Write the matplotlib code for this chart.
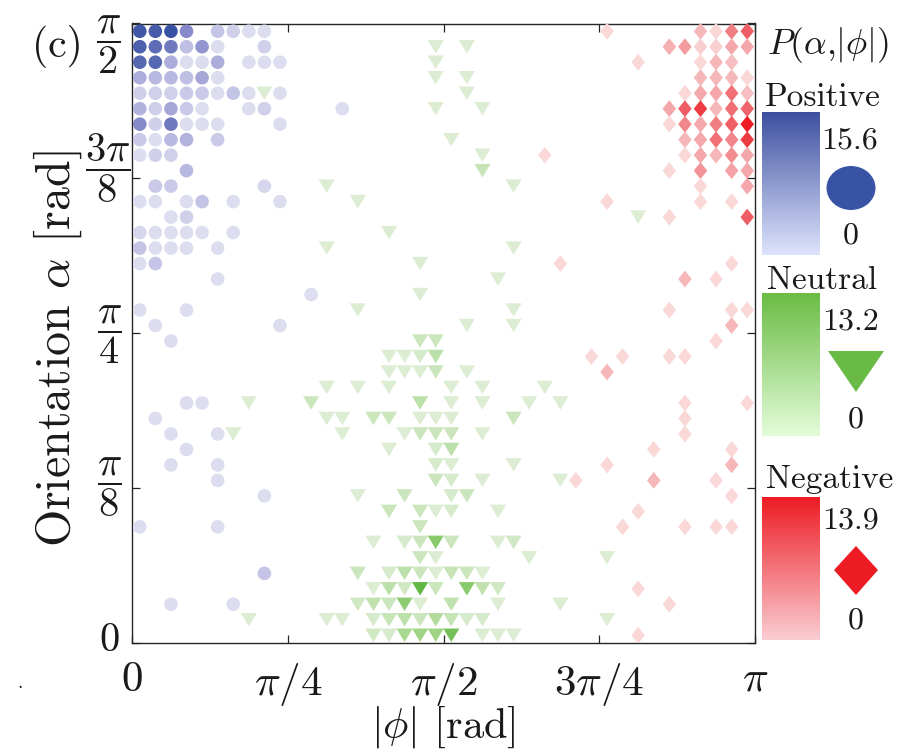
import numpy as np
import matplotlib
matplotlib.use("Agg")
import matplotlib.pyplot as plt
from matplotlib.colors import LinearSegmentedColormap, Normalize
from matplotlib.patches import Ellipse, Polygon

plt.rcParams['mathtext.fontset'] = 'cm'
plt.rcParams['font.family'] = ['cmr10', 'DejaVu Serif']
plt.rcParams['axes.formatter.use_mathtext'] = True

# ---------------- data: 40 x 40 histogram bins of |phi| in [0, pi] and alpha in [0, pi/2]
N_PHI_BINS = 40
N_ALPHA_BINS = 40
PHI_MAX = np.pi
ALPHA_MAX = np.pi / 2

# Positive (circles), max 15.6
pos_phi_bin = [
    0, 1, 2, 3, 5, 6, 7, 8,
    0, 1, 2, 3, 4, 5, 8,
    0, 1, 2, 3, 4, 5, 7, 8, 9,
    0, 1, 2, 3, 4, 5,
    0, 1, 2, 3, 4, 5, 6, 7, 9,
    0, 1, 2, 3, 4, 7, 8, 13,
    0, 1, 2, 3, 4, 5, 9,
    0, 1, 2, 3, 5,
    0, 1, 2,
    3,
    1, 2, 8,
    0, 1, 3, 4, 6, 9,
    2, 3,
    0, 1, 2, 3, 4, 6,
    0, 1, 2, 3, 5,
    0, 1,
    5,
    11,
    0, 3,
    1, 9,
    2,
    3, 4,
    1,
    2, 5,
    3,
    2, 5,
    5,
    8,
    0, 5,
    8,
    2, 6,
]
pos_alpha_bin = [
    39, 39, 39, 39, 39, 39, 39, 39,
    38, 38, 38, 38, 38, 38, 38,
    37, 37, 37, 37, 37, 37, 37, 37, 37,
    36, 36, 36, 36, 36, 36,
    35, 35, 35, 35, 35, 35, 35, 35, 35,
    34, 34, 34, 34, 34, 34, 34, 34,
    33, 33, 33, 33, 33, 33, 33,
    32, 32, 32, 32, 32,
    31, 31, 31,
    30,
    29, 29, 29,
    28, 28, 28, 28, 28, 28,
    27, 27,
    26, 26, 26, 26, 26, 26,
    25, 25, 25, 25, 25,
    24, 24,
    23,
    22,
    21, 21,
    20, 20,
    19,
    15, 15,
    14,
    13, 13,
    12,
    11, 11,
    10,
    9,
    7, 7,
    4,
    2, 2,
]
pos_P = [
    15, 14.5, 15.6, 9, 4, 3, 2, 2,
    14, 12.5, 11, 4.5, 8, 2, 3,
    13, 13, 6, 2, 2, 6, 2, 2, 2,
    6, 5, 5, 4.5, 6.5, 2,
    3, 3, 3, 3.5, 3.5, 2, 4, 2, 2,
    5.5, 3, 6.5, 3.5, 2, 2, 3, 2,
    9, 3, 11, 2, 2, 2, 2,
    3.5, 2, 5, 5.5, 3.5,
    2, 3, 3,
    5,
    3.5, 3.5, 2.5,
    2, 2, 2, 4, 2, 2,
    2, 3,
    2.5, 2, 2, 2, 2, 2,
    4, 2, 2, 2, 2,
    2, 4,
    2,
    2,
    2, 2,
    2, 2,
    2,
    2, 2,
    2,
    2, 2,
    2,
    2, 2,
    2,
    2,
    2, 2,
    4,
    2, 2,
]

# Neutral (triangles), max 13.2
neu_phi_bin = [
    19, 21,
    19,
    19, 21,
    8, 21,
    19, 22,
    20,
    22,
    22,
    12, 24,
    14,
    32,
    16,
    12, 24,
    18,
    23,
    18,
    14, 24,
    21, 24,
    18, 19,
    16, 17, 18, 19,
    16, 17, 18, 19, 21,
    12, 14, 16, 20, 22, 26,
    7, 11, 18, 20, 22, 25, 27,
    12, 13, 15, 16, 18, 19, 20, 24,
    6, 13, 17, 18, 19, 20, 22,
    16, 19, 20,
    19, 20, 24,
    19, 20, 22, 27,
    14, 17, 20, 21,
    16, 18, 19, 20, 23,
    18,
    15, 17, 18, 19, 20, 23, 24,
    18, 19, 25, 30,
    14, 16, 17, 18, 19, 20, 21, 22,
    15, 16, 17, 18, 19, 21, 22, 23,
    14, 15, 16, 17, 18, 20, 23, 27,
    7, 12, 13, 15, 16, 17, 18, 19, 20, 21, 22, 30,
    15, 16, 17, 18, 19, 20, 22, 23, 24,
]
neu_alpha_bin = [
    38, 38,
    37,
    36, 36,
    35, 35,
    34, 34,
    32,
    31,
    30,
    29, 29,
    28,
    27,
    26,
    25, 25,
    24,
    23,
    22,
    21, 21,
    20, 20,
    19, 19,
    18, 18, 18, 18,
    17, 17, 17, 17, 17,
    16, 16, 16, 16, 16, 16,
    15, 15, 15, 15, 15, 15, 15,
    14, 14, 14, 14, 14, 14, 14, 14,
    13, 13, 13, 13, 13, 13, 13,
    12, 12, 12,
    11, 11, 11,
    10, 10, 10, 10,
    9, 9, 9, 9,
    8, 8, 8, 8, 8,
    7,
    6, 6, 6, 6, 6, 6, 6,
    5, 5, 5, 5,
    4, 4, 4, 4, 4, 4, 4, 4,
    3, 3, 3, 3, 3, 3, 3, 3,
    2, 2, 2, 2, 2, 2, 2, 2,
    1, 1, 1, 1, 1, 1, 1, 1, 1, 1, 1, 1,
    0, 0, 0, 0, 0, 0, 0, 0, 0,
]
neu_P = [
    2, 2,
    2,
    2, 2,
    2, 2,
    2, 2,
    2,
    2,
    4,
    2, 2,
    2,
    2,
    2,
    2, 2,
    2,
    2,
    2,
    2, 2,
    2, 2,
    3.5, 3.5,
    2, 2, 2.5, 5,
    2, 2, 2, 3.5, 2,
    2, 2, 2, 2, 2, 2,
    2, 3.5, 5, 2, 2, 2, 2,
    2, 2, 3.5, 3.5, 2, 2, 2, 3.5,
    2, 2, 2, 3.5, 3.5, 3.5, 2,
    2, 2.5, 5,
    2.5, 2, 2,
    3.5, 2.5, 2, 2,
    2, 3.5, 2.5, 3.5,
    3.5, 3.5, 2, 2.5, 2,
    3.5,
    2, 2.5, 3.5, 10, 3.5, 2, 3,
    3.5, 2, 2, 2,
    3.5, 2.5, 5, 3.5, 2, 4, 3.5, 2,
    2, 5, 3, 13.2, 3.5, 10, 4.5, 3,
    3, 4.5, 3.5, 9.5, 2, 4.5, 2, 2,
    2, 2, 2, 2.5, 4, 5, 3.5, 6, 4, 2.5, 2.5, 2,
    3, 2.5, 7, 8, 8, 11.5, 2, 2, 2,
]

# Negative (diamonds), max 13.9
neg_phi_bin = [
    30, 36, 37, 38, 39,
    34, 35, 36, 37, 38, 39,
    32, 36, 37, 38,
    36, 37, 38, 39,
    35, 36, 37, 38, 39,
    34, 35, 36, 37, 38, 39,
    34, 35, 36, 37, 38, 39,
    35, 36, 37, 38, 39,
    26, 35, 36, 37, 38, 39,
    34, 36, 38, 39,
    36, 39,
    30, 36, 38,
    34, 39,
    27, 38,
    35, 37,
    34, 38, 39,
    38,
    37,
    29, 31, 34, 35,
    30,
    35, 39,
    35,
    35,
    33, 38,
    30, 38,
    28, 33, 37,
    38,
    32,
    31, 35, 37, 38,
    32,
    34,
    32,
]
neg_alpha_bin = [
    39, 39, 39, 39, 39,
    38, 38, 38, 38, 38, 38,
    37, 37, 37, 37,
    36, 36, 36, 36,
    35, 35, 35, 35, 35,
    34, 34, 34, 34, 34, 34,
    33, 33, 33, 33, 33, 33,
    32, 32, 32, 32, 32,
    31, 31, 31, 31, 31, 31,
    30, 30, 30, 30,
    29, 29,
    28, 28, 28,
    27, 27,
    24, 24,
    23, 23,
    21, 21, 21,
    20,
    19,
    18, 18, 18, 18,
    17,
    15, 15,
    14,
    13,
    12, 12,
    11, 11,
    10, 10, 10,
    9,
    8,
    7, 7, 7, 7,
    3,
    2,
    0,
]
neg_P = [
    2, 4, 2, 8, 10,
    4.5, 6, 2.5, 2.5, 5, 5,
    2, 2, 4, 3.5,
    4, 4, 4, 2,
    2, 5, 5, 9, 3.5,
    5, 10, 12, 4, 9, 9.5,
    2, 7.5, 5, 8, 10, 13.9,
    4, 5, 9, 7.5, 12,
    2, 2, 5, 4, 7, 5,
    2, 6.5, 5.5, 5,
    2, 5,
    2, 2, 2,
    2, 10,
    2, 2,
    4, 2,
    2, 2, 2,
    4,
    2,
    2, 2, 2, 2,
    4,
    2, 2,
    2,
    2,
    2, 2,
    2, 4,
    2, 4, 2,
    2,
    2,
    2, 2, 2, 2,
    2,
    2,
    2,
]

POS_MAX, NEU_MAX, NEG_MAX = 15.6, 13.2, 13.9
group_names = ["Positive", "Neutral", "Negative"]
group_max_labels = ["15.6", "13.2", "13.9"]

x_tick_vals = [0, np.pi / 4, np.pi / 2, 3 * np.pi / 4, np.pi]
x_tick_labels = [r'$0$', r'$\pi/4$', r'$\pi/2$', r'$3\pi/4$', r'$\pi$']
y_tick_vals = [0, np.pi / 8, np.pi / 4, 3 * np.pi / 8, np.pi / 2]
y_tick_labels = [r'$0$', r'$\dfrac{\pi}{8}$', r'$\dfrac{\pi}{4}$', r'$\dfrac{3\pi}{8}$', r'$\dfrac{\pi}{2}$']

# ---------------- colours
cm_pos = LinearSegmentedColormap.from_list('pos', [(0, '#ececf8'), (0.13, '#dcdcf0'), (0.3, '#bcbce2'),
                                                   (0.6, '#8286c6'), (1, '#3953a4')])
cm_neu = LinearSegmentedColormap.from_list('neu', [(0, '#eef7ea'), (0.15, '#dcedd3'), (0.3, '#c6e4b6'),
                                                   (0.6, '#a0d585'), (1, '#62b845')])
cm_neg = LinearSegmentedColormap.from_list('neg', [(0, '#fde8e8'), (0.15, '#fad7d7'), (0.3, '#f6b4b6'),
                                                   (0.6, '#f07b80'), (1, '#ed1c24')])
bar_pos = LinearSegmentedColormap.from_list('bpos', ['#dee4fc', '#3d50a0'])
bar_neu = LinearSegmentedColormap.from_list('bneu', ['#e4fcda', '#6abc44'])
bar_neg = LinearSegmentedColormap.from_list('bneg', ['#facdd2', '#ed1c24'])

tri_verts = [(-1, 0.83), (1, 0.83), (0, -0.83)]
dia_verts = [(0, 1), (0.8, 0), (0, -1), (-0.8, 0)]

W, H = 908, 754
fig = plt.figure(figsize=(W / 100, H / 100), dpi=100)
ax = fig.add_axes([132 / W, 1 - 643 / H, 623 / W, 619.5 / H])

def centers(phi_bin, alpha_bin):
    x = (np.asarray(phi_bin) + 0.5) * PHI_MAX / N_PHI_BINS
    y = (np.asarray(alpha_bin) + 0.5) * ALPHA_MAX / N_ALPHA_BINS
    return x, y

x, y = centers(pos_phi_bin, pos_alpha_bin)
ax.scatter(x, y, c=pos_P, cmap=cm_pos, norm=Normalize(0, POS_MAX), s=96, marker='o', linewidths=0, zorder=3)
x, y = centers(neu_phi_bin, neu_alpha_bin)
ax.scatter(x, y, c=neu_P, cmap=cm_neu, norm=Normalize(0, NEU_MAX), s=136, marker=tri_verts, linewidths=0, zorder=3)
x, y = centers(neg_phi_bin, neg_alpha_bin)
ax.scatter(x, y, c=neg_P, cmap=cm_neg, norm=Normalize(0, NEG_MAX), s=148, marker=dia_verts, linewidths=0, zorder=3)

ax.set_xlim(0, PHI_MAX)
ax.set_ylim(0, ALPHA_MAX)
ax.set_xticks(x_tick_vals)
ax.set_xticklabels(x_tick_labels)
ax.set_yticks(y_tick_vals)
ax.set_yticklabels([])
ax.tick_params(direction='in', length=6, width=0.9, top=True, right=True, colors='#262626',
               labelcolor='#1a1a1a', labelsize=31)
ax.tick_params(axis='x', pad=13)
for s in ax.spines.values():
    s.set_linewidth(1.0)
    s.set_color('#262626')

ax.set_xlabel(r'$|\phi|$ [rad]', fontsize=30.5, color='#1a1a1a')
ax.xaxis.set_label_coords(0.5, -0.098)
ax.set_ylabel(r'Orientation $\alpha$ [rad]', fontsize=34.5, color='#1a1a1a')
ax.yaxis.set_label_coords(-0.077, 0.475)

# ---------------- overlay in pixel coordinates
ov = fig.add_axes([0, 0, 1, 1], facecolor='none')
ov.set_axis_off()

ytick_px = [(109, 641), (109, 487), (109, 335), (108, 168), (108, 45)]
for (px, py), lab in zip(ytick_px, y_tick_labels):
    ov.text(px, py, lab, ha='center', va='center', fontsize=29, color='#1a1a1a')

ov.text(57, 47, '(c)', ha='center', va='center', fontsize=30, color='#1a1a1a')
ov.text(20, 688, '.', ha='center', va='baseline', fontsize=14, color='#1a1a1a')

ov.text(828, 45, r'$P(\alpha{,}|\phi|)$', ha='center', va='center', fontsize=25.5, color='#1a1a1a')

bars = [bar_pos, bar_neu, bar_neg]
bar_tops = [112, 293, 497]
title_px = [(823, 97), (822, 280), (830, 479)]
maxlab_px = [(850, 141), (851, 322), (851, 521)]
zero_px = [(851, 236), (856, 420), (856, 621)]
grad = np.linspace(1, 0, 256)[:, None]
for k in range(3):
    ov.imshow(grad, cmap=bars[k], aspect='auto', extent=(762, 820, bar_tops[k] + 143, bar_tops[k]),
              interpolation='bilinear', zorder=1)
    ov.text(*title_px[k], group_names[k], ha='center', va='center', fontsize=24, color='#1a1a1a')
    ov.text(*maxlab_px[k], group_max_labels[k], ha='center', va='center', fontsize=23, color='#1a1a1a')
    ov.text(*zero_px[k], '0', ha='center', va='center', fontsize=23, color='#1a1a1a')

ov.add_patch(Ellipse((851, 188), 49, 44, color='#3953a4', lw=0))
ov.add_patch(Polygon([(828, 351), (884, 351), (856, 392)], closed=True, color='#6abb46', lw=0))
ov.add_patch(Polygon([(856, 546), (878, 570), (856, 595), (834, 570)], closed=True, color='#ed1c24', lw=0))

ov.set_xlim(0, W)
ov.set_ylim(H, 0)

fig.savefig('out.png', dpi=100)
